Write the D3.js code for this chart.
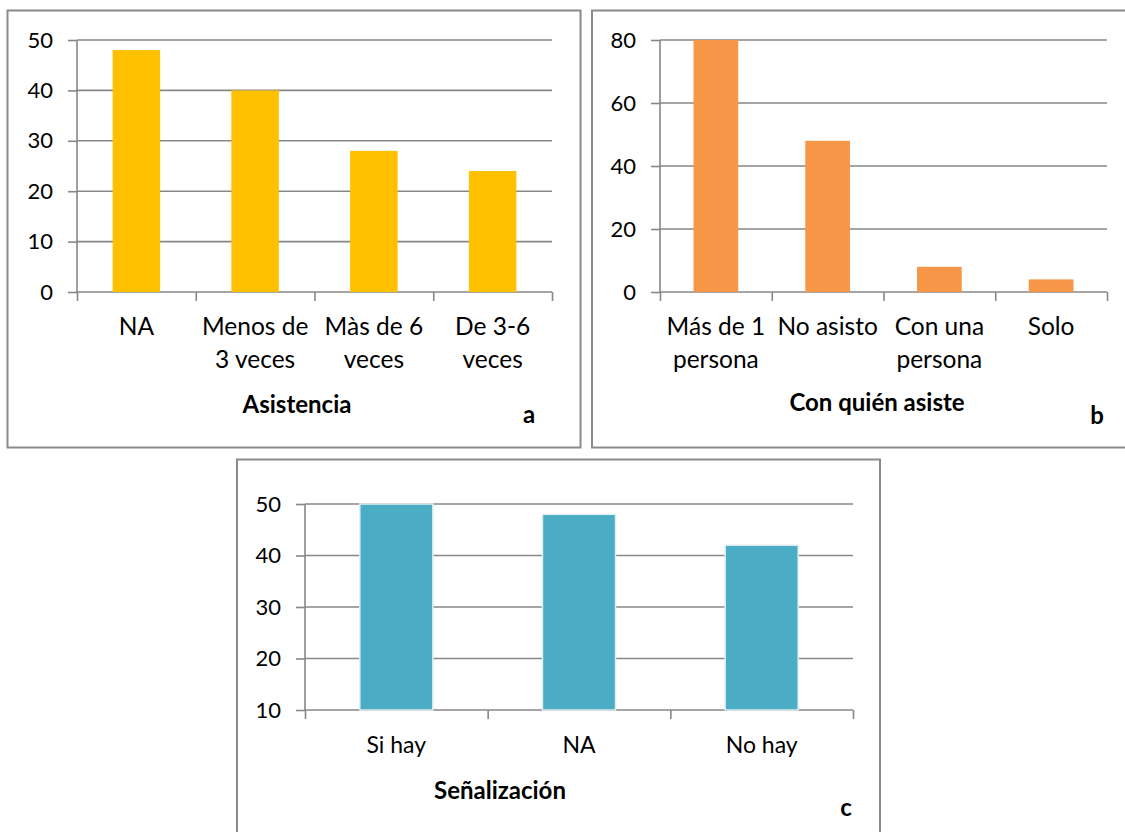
<!DOCTYPE html>
<html><head><meta charset="utf-8">
<script src="https://cdn.jsdelivr.net/npm/d3@7"></script>
<style>body{margin:0;background:#fff}svg{display:block}</style>
</head><body>
<svg id="c" width="1125" height="832"></svg>
<script>
// Panel a
const catsA = [["NA"], ["Menos de", "3 veces"], ["Màs de 6", "veces"], ["De 3-6", "veces"]];
const valsA = [48, 40, 28, 24];
const ticksA = [0, 10, 20, 30, 40, 50];
// Panel b
const catsB = [["Más de 1", "persona"], ["No asisto"], ["Con una", "persona"], ["Solo"]];
const valsB = [80, 48, 8, 4];
const ticksB = [0, 20, 40, 60, 80];
// Panel c
const catsC = [["Si hay"], ["NA"], ["No hay"]];
const valsC = [50, 48, 42];
const ticksC = [10, 20, 30, 40, 50];

const titles = ["Asistencia", "Con quién asiste", "Señalización"];
const letters = ["a", "b", "c"];

const svg = d3.select("#c");
const FONT = "Lato, 'Open Sans', sans-serif";
const GRID = "#878787";

function panel(o) {
  const g = svg.append("g");
  g.append("rect").attr("x", o.frame[0]).attr("y", o.frame[1])
    .attr("width", o.frame[2] - o.frame[0]).attr("height", o.frame[3] - o.frame[1])
    .attr("fill", "none").attr("stroke", "#8a8a8a").attr("stroke-width", 2);

  const n = o.cats.length;
  const x = d3.scaleBand().domain(d3.range(n)).range([o.x0, o.x1]).paddingInner(0.6).paddingOuter(0.3);
  const xb = d3.scaleLinear().domain([0, n]).range([o.x0, o.x1]);
  const y = d3.scaleLinear().domain([o.ticks[0], o.ticks[o.ticks.length - 1]]).range([o.y0, o.y1]);

  g.append("g").selectAll("line").data(o.ticks.slice(1)).join("line")
    .attr("x1", o.x0).attr("x2", o.x1).attr("y1", d => y(d)).attr("y2", d => y(d))
    .attr("stroke", GRID).attr("stroke-width", 1.6);

  const ya = g.append("g").attr("transform", `translate(${o.x0},0)`)
    .call(d3.axisLeft(y).tickValues(o.ticks).tickSize(9).tickPadding(15).tickFormat(d3.format("d")));
  ya.select(".domain").attr("stroke", GRID).attr("stroke-width", 1.6).attr("d", `M0,${o.y0}V${o.y1}`);
  ya.selectAll(".tick line").attr("stroke", GRID).attr("stroke-width", 1.6);
  ya.selectAll(".tick text").attr("font-family", FONT).attr("font-size", 22).attr("fill", "#000");

  const xa = g.append("g").attr("transform", `translate(0,${o.y0})`)
    .call(d3.axisBottom(xb).tickValues(d3.range(n + 1)).tickSize(9).tickFormat(""));
  xa.select(".domain").attr("stroke", GRID).attr("stroke-width", 1.6).attr("d", `M${o.x0},0H${o.x1}`);
  xa.selectAll(".tick line").attr("stroke", GRID).attr("stroke-width", 1.6);

  g.append("g").selectAll("rect").data(o.vals).join("rect")
    .attr("x", (d, i) => x(i)).attr("width", x.bandwidth())
    .attr("y", d => y(d)).attr("height", d => o.y0 - y(d))
    .attr("fill", o.color)
    .attr("stroke", o.barStroke || "none").attr("stroke-width", o.barStroke ? 1.5 : 0);

  const lab = g.append("g").selectAll("text").data(o.cats).join("text")
    .attr("x", (d, i) => x(i) + x.bandwidth() / 2).attr("y", o.labY)
    .attr("text-anchor", "middle").attr("font-family", FONT).attr("font-size", o.fs).attr("fill", "#000");
  lab.selectAll("tspan").data(d => d).join("tspan")
    .attr("x", function () { return this.parentNode.getAttribute("x"); })
    .attr("dy", (d, i) => i === 0 ? 0 : o.lh).text(d => d);

  g.append("text").attr("x", o.titleX).attr("y", o.titleY).attr("text-anchor", "middle")
    .attr("font-family", FONT).attr("font-weight", "bold").attr("font-size", 24).text(o.title);
  g.append("text").attr("x", o.letX).attr("y", o.letY).attr("text-anchor", "middle")
    .attr("font-family", FONT).attr("font-weight", "bold").attr("font-size", 24).text(o.letter);
}

panel({frame: [7.5, 10.5, 580.5, 447.5], cats: catsA, vals: valsA, ticks: ticksA,
  x0: 77, x1: 552, y0: 292, y1: 40, color: "#FFC000", fs: 24.5, labY: 335, lh: 33,
  title: titles[0], titleX: 297, titleY: 413, letter: letters[0], letX: 529, letY: 423});

panel({frame: [592, 10.5, 1130, 447.5], cats: catsB, vals: valsB, ticks: ticksB,
  x0: 660, x1: 1107, y0: 292, y1: 40, color: "#F79646", fs: 24.5, labY: 335, lh: 33,
  title: titles[1], titleX: 877, titleY: 411, letter: letters[1], letX: 1097, letY: 424});

panel({frame: [237, 459.5, 880, 840], cats: catsC, vals: valsC, ticks: ticksC,
  x0: 305, x1: 853, y0: 710, y1: 504, color: "#4BACC6", fs: 23, labY: 753, lh: 33, barStroke: "#e3eef1",
  title: titles[2], titleX: 500, titleY: 799, letter: letters[2], letX: 846, letY: 816});
</script>
</body></html>
